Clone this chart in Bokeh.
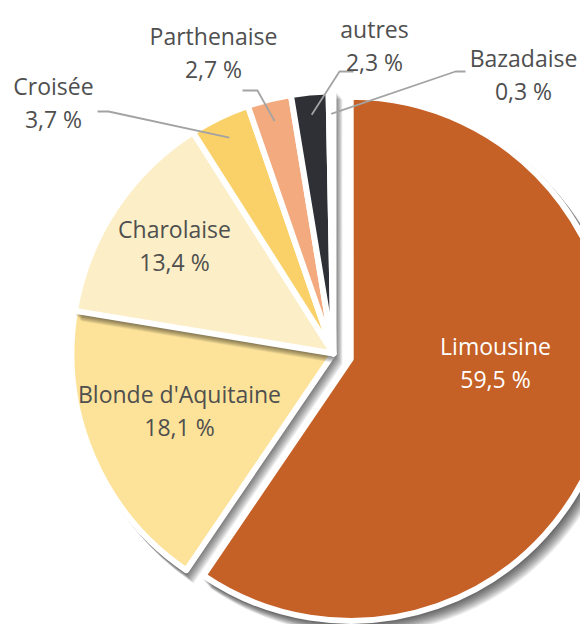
import math
from bokeh.plotting import figure
from bokeh.models import Range1d
from bokeh.embed import file_html
from bokeh.resources import INLINE
from bokeh.core.properties import value

# ---------------- data ----------------
breeds = ["Limousine", "Blonde d'Aquitaine", "Charolaise", "Croisée",
          "Parthenaise", "autres", "Bazadaise"]
shares = [59.5, 18.1, 13.4, 3.7, 2.7, 2.3, 0.3]

# ---------------- styles / layout ----------------
colors = ["#C56026", "#FDE399", "#FCEFC7", "#F9D168", "#F2AA7E", "#2E3036", "#FFFFFF"]
explode = [18, 0, 0, 0, 0, 0, 0]          # px pulled out along mid-angle
text_colors = ["#FFFFFF"] + ["#4F4F4F"] * 6

W, H = 580, 624
CX, CY_S = 333, 353          # pie centre (screen px)
R = 262
LINE_GAP = 33
FONT = "Open Sans"
FONT_SIZE = "23px"

# label block anchors (screen coords of first line centre)
label_xy = {
    "Limousine": (495, 345),
    "Blonde d'Aquitaine": (179, 393),
    "Charolaise": (174, 228),
    "Croisée": (53, 85),
    "Parthenaise": (213, 35),
    "autres": (374, 28),
    "Bazadaise": (523, 57),
}
# leader knees for outside labels: (start point screen, horizontal run)
leader_knee = {
    "Croisée": ((97, 111), 11),
    "Parthenaise": ((242, 90), 15),
    "autres": ((353, 71), -14),
    "Bazadaise": ((465, 71), -10),
}
LEADER_R = 0.915


def sy(y):
    return H - y


p = figure(width=W, height=H, output_backend="svg", toolbar_location=None,
           x_range=Range1d(0, W), y_range=Range1d(0, H),
           x_axis_location=None, y_axis_location=None, min_border=0)
p.grid.visible = False
p.outline_line_color = None
p.background_fill_color = "white"
p.border_fill_color = "white"

total = sum(shares)
cum = 0.0
mids = []
for name, v, col, ex in zip(breeds, shares, colors, explode):
    t0 = cum / total * 2 * math.pi
    t1 = (cum + v) / total * 2 * math.pi
    cum += v
    tm = (t0 + t1) / 2
    mids.append(tm)
    # direction in data coords (clockwise from top)
    dx, dy = math.sin(tm), math.cos(tm)
    cx = CX + ex * dx
    cy = sy(CY_S) + ex * dy
    a0 = math.pi / 2 - t0
    a1 = math.pi / 2 - t1
    # soft shadow (down-right)
    for k in range(1, 13):
        p.wedge(x=cx + 0.75 * k, y=cy - 0.9 * k, radius=R + 3,
                start_angle=a0, end_angle=a1, direction="clock",
                fill_color="black", fill_alpha=0.065, line_color=None)
    p.wedge(x=cx, y=cy, radius=R, start_angle=a0, end_angle=a1,
            direction="clock", fill_color=col, line_color="white",
            line_width=6, line_join="round")

# leader lines
for name, tm in zip(breeds, mids):
    if name not in leader_knee:
        continue
    (x0, y0), run = leader_knee[name]
    ex_ = CX + LEADER_R * R * math.sin(tm)
    ey_ = sy(CY_S) + LEADER_R * R * math.cos(tm)
    p.line(x=[x0, x0 + run, ex_], y=[sy(y0), sy(y0), ey_],
           line_color="#A3A3A3", line_width=1.8)

# labels
for name, v, tc in zip(breeds, shares, text_colors):
    lx, ly = label_xy[name]
    pct = f"{v:.1f}".replace(".", ",") + " %"
    p.text(x=[lx, lx], y=[sy(ly), sy(ly + LINE_GAP)], text=[name, pct],
           text_font=value(FONT), text_font_size=FONT_SIZE,
           text_align="center", text_baseline="middle", text_color=tc)

open("out.html", "w").write(file_html(p, INLINE))
